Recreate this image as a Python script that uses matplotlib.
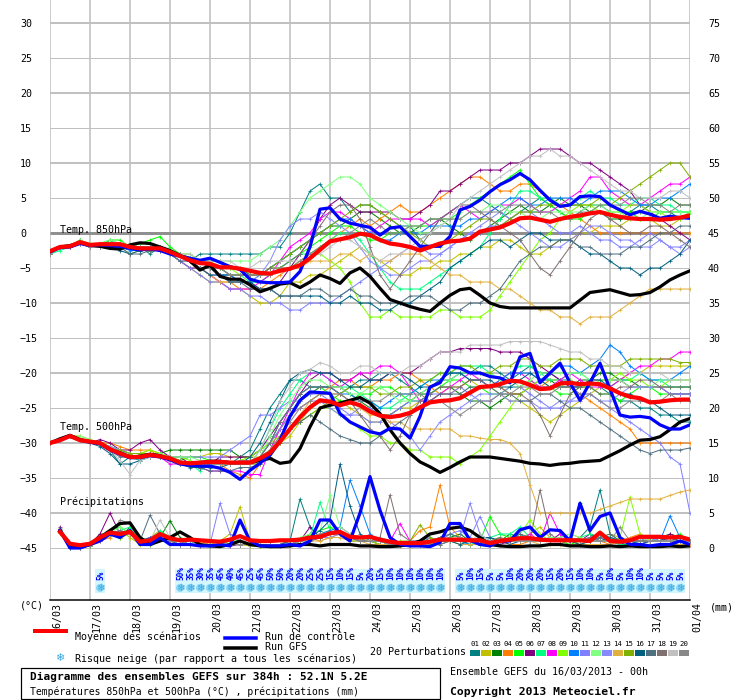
import numpy as np
import matplotlib
matplotlib.use('Agg')
import matplotlib.pyplot as plt
from matplotlib.lines import Line2D
from matplotlib.patches import Rectangle
from matplotlib.transforms import blended_transform_factory

plt.rcParams['font.family'] = ['DejaVu Sans Mono', 'DejaVu Sans']
plt.rcParams['font.size'] = 7.2

nan = np.nan
steps = np.arange(65)  # échéances de 6h, du 16/03 00h au 01/04 00h
days = ['16/03', '17/03', '18/03', '19/03', '20/03', '21/03', '22/03', '23/03', '24/03',
        '25/03', '26/03', '27/03', '28/03', '29/03', '30/03', '31/03', '01/04']

pert_names = ['%02d' % k for k in range(1, 21)]
pert_colors = ['#008080', '#c0c000', '#008000', '#ff8000', '#00ff00', '#800080', '#00ff80',
               '#ff00ff', '#80ff00', '#0080ff', '#8080ff', '#80ff80', '#8888ff', '#e0b040',
               '#80b000', '#006080', '#507080', '#807070', '#c0c0c0', '#888888']

# ---- température 850hPa (°C)
t850_mean = [-2.6, -2.0, -1.9, -1.3, -1.7, -1.6, -1.6, -1.6, -2.0, -2.2, -2.2, -2.2,
             -2.7, -3.3, -3.9, -4.3, -4.4, -4.9, -4.9, -5.1, -5.4, -5.7, -5.8, -5.4,
             -5.1, -4.6, -3.6, -2.4, -1.2, -0.9, -0.6, -0.1, -0.3, -1.0, -1.5, -1.7,
             -2.0, -2.5, -2.0, -1.5, -1.2, -1.1, -0.8, 0.2, 0.5, 0.8, 1.4, 2.1,
             2.2, 1.9, 1.6, 2.0, 2.3, 2.5, 2.8, 3.0, 2.6, 2.3, 2.1, 2.0, 2.0, 1.9, 2.0, 2.2, 2.5]
t850_ctrl = [-2.7, -2.1, -2.0, -1.5, -1.8, -1.7, -1.8, -1.9, -2.2, -2.4, -2.3, -2.5,
             -3.0, -3.3, -3.6, -3.9, -3.6, -4.2, -4.8, -5.2, -6.6, -7.0, -7.1, -7.1,
             -7.0, -5.5, -2.0, 3.4, 3.6, 2.0, 1.4, 1.1, 0.8, -0.3, 0.7, 0.9,
             -0.5, -1.9, -1.9, -1.9, -0.5, 3.3, 3.8, 4.7, 5.9, 6.9, 7.6, 8.5,
             7.6, 6.1, 4.7, 3.8, 4.0, 5.2, 5.3, 5.2, 4.0, 3.3, 2.6, 3.1, 2.7, 2.1, 2.4, 2.2, 2.1]
t850_gfs = [-2.6, -2.0, -1.8, -1.4, -1.7, -1.9, -2.2, -2.3, -1.7, -1.4, -1.5, -2.0,
            -2.5, -3.2, -4.0, -5.3, -4.6, -6.2, -6.6, -6.6, -7.4, -8.4, -7.9, -7.3,
            -7.1, -7.8, -7.0, -6.0, -6.5, -7.2, -5.7, -5.0, -6.2, -7.9, -9.5, -10.0,
            -10.5, -10.9, -11.2, -10.0, -8.9, -8.1, -7.9, -8.9, -10.0, -10.5, -10.7, -10.7,
            -10.7, -10.7, -10.7, -10.7, -10.7, -9.6, -8.5, -8.3, -8.1, -8.5, -8.9, -8.8,
            -8.5, -7.7, -6.7, -6.0, -5.4]
t850_pert = [
    [-3, -2, -2, -1, -2, -2, -1, -2, -2, -2, -3, -2, -3, -3, -4, -3, -3, -3, -3, -3, -3, -3, -2, -2, 0, 3, 6, 7, 5, 5, 3, 4, 4, 3, 2, 1, 1, -1, 0, 2, 3, 4, 5, 5, 4, 3, 2, 3, 4, 5, 4, 3, 2, 3, 4, 4, 3, 2, 3, 4, 4, 3, 3, 2, 3],
    [-3, -2, -2, -1.5, -2, -2, -2, -2, -3, -2.5, -2, -2, -3, -4, -5, -6, -7, -7, -8, -8, -9, -10, -10, -9, -7, -7, -6, -6, -5, -4, -3, -2, -3, -4, -5, -6, -6, -5, -5, -4, -4, -3, -3, -2, -2, -1, -1, -2, -3, -3, -2, -1, -1, 0, 0, 1, 1, 1, 2, 2, 2, 1, 1, 2, 3],
    [-3, -2, -2, -1, -2, -1.5, -1.5, -2, -2, -2, -2, -2.5, -3, -3, -3.5, -4, -4, -4, -5, -5, -6, -6, -5, -4, -3, -2, -1, 0, 1, 1, 2, 3, 3, 2, 1, 0, 0, 1, 2, 2, 1, 0, -1, 0, 1, 2, 3, 4, 3, 3, 4, 5, 4, 4, 3, 3, 2, 2, 3, 3, 4, 4, 5, 4, 4],
    [-3, -2, -2, -1.5, -2, -2, -1.5, -2, -2, -2, -2, -2, -3, -3, -4, -5, -6, -7, -7, -8, -8, -8, -7, -6, -5, -4, -3, -2, -1, 0, 1, 2, 1, 2, 3, 4, 3, 3, 4, 5, 6, 7, 8, 8, 7, 6, 6, 7, 7, 6, 5, 4, 3, 2, 1, 0, 0, 0, 0, 0, 0, 0, 0, 0, 0],
    [-3, -2, -2, -1, -2, -1.5, -1, -1, -2, -1.5, -1, -0.5, -2, -3, -4, -4, -5, -6, -6, -7, -7, -7, -6, -5, -4, -3, -2, -1, 0, 1, 1, 0, -1, -1, 0, 0, 1, 1, 1, 2, 2, 3, 4, 5, 6, 7, 8, 9, 7, 5, 4, 3, 2, 2, 3, 4, 4, 3, 3, 2, 2, 3, 3, 3, 3],
    [-3, -2, -2, -1.5, -2, -2, -2, -1.5, -2, -2, -2, -2, -3, -4, -5, -5, -5, -6, -6, -7, -7, -8, -8, -7, -5, -3, -1, 2, 4, 5, 4, 3, 3, 3, 3, 2, 2, 3, 4, 6, 6, 7, 8, 9, 9, 9, 10, 10, 11, 12, 12, 12, 11, 10, 10, 9, 8, 7, 6, 4, 3, 2, 1, 0, -1],
    [-3, -2.5, -2, -1.5, -2, -2, -2, -2, -2, -2, -2.5, -2.5, -3, -3, -4, -4, -5, -5, -6, -6, -7, -7, -6, -5, -4, -3, -3, -2, -1, 0, 0, -1, -3, -5, -7, -8, -8, -8, -7, -6, -5, -4, -3, -2, 0, 2, 4, 6, 6, 5, 5, 4, 4, 5, 6, 5, 5, 4, 4, 5, 5, 4, 4, 3, 3],
    [-3, -2, -2, -1.5, -2, -2, -2, -2, -2, -2, -2, -2, -3, -3, -4, -5, -6, -7, -8, -8, -8, -7, -6, -4, -2, -1, 0, 2, 3, 3, 2, 1, 0, 1, 2, 2, 2, 2, 1, 2, 3, 4, 3, 2, 3, 4, 4, 5, 4, 3, 3, 4, 5, 6, 8, 8, 6, 5, 4, 4, 5, 6, 7, 7, 8],
    [-3, -2, -2, -1.5, -1.5, -1.5, -2, -2, -2, -2, -2, -2, -3, -3, -3, -4, -4, -5, -5, -6, -6, -6, -5, -5, -5, -4, -3, -3, -4, -5, -7, -10, -12, -12, -11, -12, -12, -12, -12, -11, -11, -12, -12, -12, -11, -9, -7, -5, -3, -1, 0, 2, 3, 4, 4, 3, 3, 3, 4, 4, 3, 3, 2, 2, 3],
    [-3, -2, -2, -1.5, -2, -2, -2, -2, -2.5, -2.5, -2, -2, -3, -3, -4, -5, -5, -6, -6, -7, -7, -6, -5, -4, -3, -2, -1, 0, 1, 2, 2, 1, 0, -1, -1, 0, 0, 0, 1, 1, 1, 1, 2, 2, 3, 4, 5, 5, 4, 4, 5, 5, 5, 4, 5, 6, 6, 6, 5, 4, 4, 5, 5, 6, 7],
    [-3, -2, -2, -1.5, -2, -2, -2, -2, -2, -2, -2.5, -2.5, -3, -4, -5, -6, -7, -7, -8, -8, -9, -9, -10, -10, -11, -11, -10, -10, -10, -9, -8, -7, -6, -5, -4, -3, -2, -2, -3, -3, -2, -1, 0, 0, 1, 1, 2, 3, 3, 2, 1, 0, 0, 1, 0, -1, -1, -2, -2, -1, 0, -1, -2, -2, -1],
    [-3, -2, -2, -1, -1.5, -1.5, -1, -1.5, -2, -2, -2, -2, -3, -3, -3, -4, -4, -4, -4, -4, -4, -3, -2, -1, 1, 3, 5, 6, 7, 8, 8, 7, 5, 4, 3, 2, 1, 0, 0, 1, 2, 2, 3, 3, 4, 4, 3, 3, 2, 2, 3, 3, 3, 3, 4, 4, 3, 3, 2, 2, 3, 3, 3, 3, 3],
    [-3, -2, -2, -1.5, -2, -2, -1.5, -1.5, -2, -2, -2, -2.5, -3, -4, -4, -5, -6, -6, -7, -7, -7, -6, -4, -1, 1, 2, 2, 3, 2, 1, 0, -2, -4, -5, -6, -6, -5, -4, -4, -3, -2, -1, 0, 1, 2, 3, 2, 1, 0, -1, -2, -2, -1, 0, 1, 1, 0, -1, -1, -2, -2, -1, -2, -3, -2],
    [-3, -2, -2, -1.5, -2, -2, -2, -2, -2, -2, -2, -2, -3, -3, -4, -5, -6, -7, -7, -7, -6, -6, -6, -5, -5, -5, -4, -4, -4, -3, -3, -4, -3, -4, -4, -3, -3, -3, -4, -5, -6, -6, -7, -7, -7, -8, -8, -9, -10, -11, -11, -12, -12, -13, -12, -12, -12, -11, -10, -9, -8, -8, -8, -8, -8],
    [-3, -2, -2, -1.5, -2, -2, -2, -2, -2, -2.5, -2.5, -2, -3, -3, -4, -4, -5, -5, -6, -6, -6, -6, -5, -4, -3, -2, -1, 0, 1, 2, 3, 4, 4, 3, 2, 1, 0, -1, -2, -2, -1, 0, 1, 2, 2, 1, 2, 3, 3, 4, 4, 4, 4, 4, 4, 5, 4, 5, 6, 7, 8, 9, 10, 10, 8],
    [-3, -2, -2, -1.5, -2, -2, -2, -2.5, -3, -2.5, -2, -2, -3, -3, -4, -5, -6, -6, -7, -7, -7, -8, -8, -9, -9, -9, -9, -9, -10, -10, -9, -10, -10, -11, -11, -10, -10, -9, -8, -7, -5, -4, -3, -2, -1, -1, -2, -1, 0, 0, -1, -1, -1, -2, -3, -3, -4, -5, -5, -6, -5, -5, -4, -3, -1],
    [-3, -2, -2, -1.5, -2, -2, -2, -2, -3, -3, -2.5, -2, -3, -4, -4, -5, -5, -6, -7, -7, -8, -8, -8, -9, -9, -9, -8, -8, -9, -9, -8, -9, -9, -10, -10, -10, -9, -9, -9, -10, -11, -11, -10, -10, -9, -8, -6, -4, -3, -2, -2, -1, -1, -2, -2, -3, -3, -3, -2, -2, -1, 0, 0, 1, 1],
    [-3, -2, -2, -1.5, -2, -2, -2, -2, -2, -2, -2, -2.5, -3, -3, -4, -4, -5, -5, -6, -6, -6, -6, -5, -5, -4, -3, -1, 1, 3, 4, 4, 2, -2, -6, -8, -6, -4, -2, 0, 2, 3, 4, 4, 3, 2, 1, 0, -1, -3, -5, -6, -4, -2, 0, 2, 3, 2, 1, 0, 0, 1, 1, 0, -1, -2],
    [-3, -2, -2, -1.5, -2, -2, -2, -2, -2, -2, -2, -2, -3, -3, -3, -4, -4, -4, -4, -5, -5, -4, -4, -4, -4, -4, -3, -3, -2, -1, -1, -2, -3, -4, -3, -3, -2, -1, 0, 1, 2, 4, 5, 6, 7, 8, 9, 10, 11, 11, 12, 11, 11, 10, 9, 8, 7, 6, 6, 5, 5, 5, 6, 6, 5],
    [-3, -2, -2, -1.5, -2, -2, -2, -2, -2, -2, -2, -2, -3, -3, -4, -5, -5, -5, -6, -6, -6, -6, -6, -5, -5, -4, -3, -2, -1, -1, 0, 1, 2, 1, 0, 0, 1, 1, 2, 2, 2, 2, 3, 3, 3, 3, 4, 4, 4, 3, 3, 2, 2, 3, 3, 4, 4, 4, 5, 5, 4, 4, 3, 4, 4],
]

# ---- température 500hPa (°C)
t500_mean = [-30.0, -29.6, -29.0, -29.6, -29.8, -30.0, -30.9, -31.5, -32.0, -32.0, -31.7, -31.9,
             -32.2, -32.8, -32.9, -32.8, -32.7, -32.7, -32.8, -32.8, -32.8, -32.2, -31.4, -29.8,
             -28.0, -26.3, -24.9, -23.9, -24.1, -24.6, -24.2, -24.6, -25.5, -26.1, -26.3, -26.1,
             -25.7, -24.9, -24.2, -24.0, -23.9, -23.6, -22.8, -22.0, -21.9, -21.6, -21.1, -21.2,
             -21.7, -22.3, -22.2, -21.5, -21.4, -21.6, -21.5, -21.6, -22.2, -22.9, -23.4, -23.6,
             -24.2, -24.1, -23.9, -23.8, -23.8]
t500_ctrl = [-30.0, -29.6, -29.0, -29.6, -29.9, -30.1, -31.0, -31.6, -32.1, -32.1, -31.8, -32.0,
             -32.4, -33.0, -33.2, -33.3, -33.3, -33.6, -34.2, -35.2, -33.9, -32.9, -31.7, -29.6,
             -26.2, -23.9, -22.7, -22.8, -22.9, -25.8, -27.0, -27.7, -28.4, -28.7, -27.9, -28.0,
             -29.3, -26.2, -22.0, -21.4, -19.1, -19.3, -20.0, -20.0, -20.5, -20.7, -21.4, -17.7,
             -17.2, -21.4, -20.0, -18.6, -21.4, -23.9, -21.4, -18.6, -22.3, -26.0, -26.3, -26.2,
             -26.4, -27.4, -28.0, -28.0, -27.4]
t500_gfs = [-30.0, -29.4, -28.9, -29.5, -29.8, -30.1, -30.9, -31.4, -32.0, -31.9, -31.6, -31.8,
            -32.3, -32.8, -33.0, -32.8, -32.6, -32.6, -32.8, -32.8, -32.8, -32.5, -32.2, -32.9,
            -32.7, -30.8, -27.7, -25.0, -24.6, -24.3, -23.9, -23.5, -24.3, -25.8, -28.1, -30.0,
            -31.5, -32.7, -33.4, -34.2, -33.5, -32.7, -32.0, -32.0, -32.0, -32.2, -32.4, -32.6,
            -32.9, -33.0, -33.2, -33.0, -32.9, -32.7, -32.6, -32.5, -31.8, -31.1, -30.3, -29.6,
            -29.5, -29.1, -28.1, -27.0, -26.5]
t500_pert = [
    [-30, -29.5, -29, -29.5, -30, -30, -31, -33, -32, -32, -31.5, -32, -32, -33, -33, -33, -33, -33, -33, -32, -31, -28, -25, -23, -21, -21, -22, -22, -22, -23, -22, -21, -21, -20, -20, -21, -22, -23, -22, -21, -21, -20, -20, -19, -19, -20, -21, -20, -19, -20, -20, -21, -21, -22, -21, -22, -23, -24, -24, -25, -25, -26, -26, -27, -27],
    [-30, -29.5, -29, -29, -29.5, -30, -30.5, -31, -31.5, -31.5, -31, -31.5, -32, -32, -32, -32, -31.5, -31.5, -32, -32, -32, -32, -31, -30, -29, -27, -25, -24, -24, -24, -25, -26, -27, -27, -26, -25, -25, -24, -24, -23, -22, -22, -21, -22, -22, -23, -24, -24, -25, -26, -27, -26, -25, -24, -23, -22, -22, -21, -20, -20, -19, -19, -19, -19, -19],
    [-30, -29.5, -29, -29.5, -30, -30, -31, -31, -32, -32, -31.5, -31.5, -31, -31, -31, -31, -31, -31, -31, -32, -32, -31, -30, -28, -26, -24, -23, -22, -22, -22, -23, -24, -25, -26, -26, -25, -24, -23, -23, -22, -22, -23, -24, -24, -25, -24, -23, -23, -22, -21, -21, -22, -22, -21, -21, -20, -20, -21, -21, -22, -22, -22, -22, -22, -22],
    [-30, -29.5, -29, -29.5, -30, -30, -30, -30.5, -31, -31, -31, -32, -32, -33, -33, -33, -33, -33, -34, -34.5, -35, -33, -31, -28, -26, -25, -24, -23, -22, -21, -21, -22, -22, -21, -21, -20, -20, -21, -22, -23, -23, -22, -21, -21, -22, -22, -23, -23, -22, -22, -21, -21, -22, -23, -24, -25, -26, -27, -28, -30, -30, -30, -30, -30, -30],
    [-30, -29.5, -29, -29.5, -30, -30, -30.5, -31, -31.5, -31.5, -31.5, -31.5, -32, -32.5, -32, -32, -32.5, -33, -33, -33, -33, -32, -30, -27, -25, -23, -22, -22, -23, -24, -24, -23, -23, -22, -22, -23, -24, -24, -23, -22, -21, -21, -22, -22, -23, -23, -22, -22, -21, -22, -22, -23, -23, -22, -22, -23, -23, -24, -23, -22, -22, -23, -23, -23, -23],
    [-30, -29.5, -29, -29.5, -30, -29.5, -30, -31, -31, -30, -29.5, -31, -32, -32, -33, -33, -33, -32, -32, -32, -32, -31, -29, -27, -25, -23, -21, -20, -20, -21, -21, -20, -21, -21, -20, -20, -20, -19, -18, -17, -17, -16.5, -16.5, -16.5, -16.5, -17, -17, -17, -18, -19, -20, -21, -22, -22, -21, -21, -21, -21, -22, -22, -22, -22, -23, -23, -23],
    [-30, -29.5, -29, -29.5, -30, -30, -31, -31.5, -32, -32.5, -32, -32, -32, -33, -33, -34, -33, -33, -33, -33, -33, -31, -28, -25, -23, -21, -20, -20, -21, -22, -22, -23, -24, -25, -25, -24, -23, -22, -21, -20, -20, -19, -19, -19, -20, -21, -20, -19, -19, -20, -21, -21, -20, -20, -21, -22, -22, -21, -21, -20, -21, -21, -22, -22, -22],
    [-30, -29.5, -29, -29.5, -30, -30, -31, -31.5, -32, -32, -32, -32, -33, -33, -33, -33.5, -34, -34, -34, -34, -34.5, -34.5, -31, -28, -25, -22, -20, -20, -21, -22, -21, -20, -20, -19, -19, -20, -22, -24, -24, -23, -22, -21, -20, -21, -22, -21, -20, -20, -21, -22, -22, -21, -20, -21, -22, -22, -22, -21, -20, -19, -19, -18, -18, -17, -17],
    [-30, -29.5, -29, -29.5, -30, -30, -30.5, -31, -31.5, -31.5, -31, -31.5, -32, -32, -32.5, -33, -33, -33, -33, -32.5, -32, -31, -30, -29, -28, -27, -26, -25, -25, -26, -27, -28, -29, -29, -30, -30, -31, -31, -32, -32, -32, -33, -32, -31, -29, -27, -25, -23, -22, -21, -22, -22, -21, -22, -22, -21, -21, -20, -21, -21, -22, -22, -21, -21, -21],
    [-30, -29.5, -29, -29.5, -30, -30, -31, -31.5, -32, -32, -31.5, -32, -32, -33, -33, -33, -33, -33, -33, -33, -33, -32, -30, -27, -25, -23, -22, -22, -22, -23, -23, -24, -24, -25, -24, -23, -23, -22, -21, -21, -20, -20, -21, -21, -22, -21, -20, -20, -20, -21, -20, -19, -19, -20, -19, -18, -16, -17, -19, -20, -21, -21, -21, -20, -19],
    [-30, -29.5, -29, -29.5, -30, -30, -31, -31, -32, -32, -31.5, -32, -32, -32, -32, -32, -32, -32, -31, -30, -29, -26, -26, -25, -24, -24, -23, -23, -24, -25, -26, -26, -27, -27, -26, -25, -24, -24, -23, -23, -23, -22, -23, -24, -24, -23, -22, -22, -23, -24, -25, -25, -24, -24, -23, -24, -25, -26, -27, -28, -29, -30, -32, -33, -40],
    [-30, -29.5, -29, -29, -29.5, -30, -30.5, -31, -31.5, -31.5, -31.5, -31.5, -32, -32, -32, -32.5, -33, -33, -33, -33, -33, -32, -29, -26, -24, -22, -21, -21, -22, -22, -23, -23, -22, -22, -23, -24, -24, -23, -22, -21, -21, -20, -20, -20, -20, -21, -21, -22, -21, -20, -20, -20, -20, -20, -21, -21, -21, -21, -22, -22, -22, -21, -21, -21, -21],
    [-30, -29.5, -29, -29.5, -30, -30, -30.5, -31, -31.5, -31.5, -31.5, -32, -32, -33, -33, -33, -33, -33, -33, -33, -33, -32, -30, -28, -26, -25, -24, -24, -25, -26, -26, -25, -25, -26, -27, -28, -29, -31, -29, -27, -26, -25, -24, -23, -23, -23, -24, -24, -24, -25, -25, -24, -24, -23, -23, -24, -24, -23, -22, -22, -22, -22, -23, -23, -23],
    [-30, -29.5, -29, -29.5, -30, -30, -31, -31.5, -32, -32, -32, -32, -32, -33, -33, -33, -33, -33, -33, -33, -33, -33, -31, -29, -28, -26, -24, -23, -23, -23, -24, -25, -26, -26, -27, -27, -28, -28, -28, -28, -28, -29, -29, -29.3, -29.5, -29.5, -30, -31.5, -36, -40, -40, -40, -40, -40, -40, -39.5, -39, -38.5, -38, -38, -38, -38, -37.5, -37, -36.7],
    [-30, -29.5, -29, -29.5, -30, -30, -31, -31, -31.5, -31.5, -31.5, -32, -32, -32.5, -33, -33, -33, -33, -33, -33, -33, -33, -32, -30, -28, -27, -26, -25, -24, -23, -22, -22, -22, -23, -23, -22, -22, -21, -21, -20, -20, -19, -19, -20, -20, -19, -19, -18, -18, -19, -19, -18, -18, -18, -19, -19, -19, -19, -18, -18, -18, -18, -18, -18.5, -18.5],
    [-30, -29.5, -29, -29.5, -30, -30.5, -31.5, -33, -33, -32.5, -32, -32, -32.5, -33, -33.5, -33.5, -33.5, -33.5, -33, -33, -32, -30, -27, -24, -21, -20, -19.5, -20, -20, -21, -22, -22, -21, -21, -20, -20, -21, -22, -22, -21, -20, -20, -21, -21, -21, -22, -22, -21, -20, -21, -22, -22, -22, -22, -21, -21, -22, -23, -23, -24, -24, -25, -26, -26, -26],
    [-30, -29.5, -29, -29.5, -30, -30, -31, -32, -32, -32, -32, -32, -32, -33, -33, -33.5, -34, -34, -34, -33.5, -33.5, -33, -32, -30, -28, -27, -26, -27, -28, -29, -29.5, -30, -30, -29, -28, -27, -26, -25, -24, -23, -23, -23, -22, -22, -22, -23, -23, -24, -24, -23, -23, -24, -25, -25, -26, -27, -28, -29, -30, -31, -31.5, -31, -31, -31, -30.7],
    [-30, -29.5, -29, -29.5, -30, -30, -31, -31.5, -32, -32, -31.5, -32, -32.5, -33, -33, -33, -33, -33, -33, -33, -33, -32, -30, -27, -25, -23, -22, -22, -22, -23, -24, -26, -28, -29, -31, -29, -26, -24, -23, -22, -22, -22, -21, -21, -22, -22, -23, -23, -24, -26, -29, -26, -23, -22, -22, -23, -23, -22, -22, -21, -21, -22, -22, -22, -22],
    [-30, -29.5, -29, -29.5, -30, -30, -31, -32.5, -34.5, -32.5, -32, -32, -32.5, -33, -33, -33, -33, -33, -33, -33, -33, -31, -28, -24, -22, -20, -19.5, -18.5, -19, -20, -20, -19, -19, -20, -20, -20, -19, -19, -18, -17, -17, -17, -16, -16, -16, -16, -15.5, -15.5, -15.5, -15.5, -16, -16.5, -17, -17, -18, -18, -19, -19, -20, -20, -20, -20, -21, -21, -21],
    [-30, -29.5, -29, -29.5, -30, -30, -31, -31.5, -32, -32, -31.5, -32, -32, -32.5, -33, -33, -33, -33, -33, -32.5, -32.5, -32, -31, -29, -27, -25, -24, -23, -23, -23, -24, -24, -24, -24, -23, -23, -23, -23, -24, -24, -25, -26, -25, -24, -24, -23, -23, -22, -22, -23, -23, -22, -22, -23, -23, -24, -25, -25, -24, -24, -24, -24, -23, -24, -24],
]

# ---- précipitations (mm sur 6h), pas de valeur à l'échéance 0
rr_mean = [nan, 2.3, 0.6, 0.4, 0.6, 1.5, 2.2, 2.0, 2.3, 0.9, 1.1, 2.0, 1.4, 1.1, 1.2, 1.1,
           1.0, 0.9, 1.2, 1.7, 1.1, 1.0, 1.0, 1.1, 1.1, 1.2, 1.5, 1.6, 2.1, 2.3, 1.6, 1.5,
           1.6, 1.2, 0.9, 0.7, 0.7, 0.7, 0.9, 1.2, 1.2, 1.2, 1.1, 1.1, 0.7, 1.0, 1.2, 1.4,
           1.4, 1.2, 1.1, 1.1, 1.1, 1.1, 1.0, 2.2, 1.0, 0.9, 1.1, 1.6, 1.6, 1.6, 1.5, 1.6, 1.2]
rr_ctrl = [nan, 2.5, 0, 0, 0.5, 1, 2, 1.5, 2.5, 0.5, 0.5, 1.5, 0.5, 0.5, 0.5, 0.3,
           0.3, 0.5, 0.3, 4.0, 1.0, 0.3, 0.3, 0.3, 0.5, 0.3, 1.0, 4.0, 4.0, 2.0, 1.0, 5.0,
           10.2, 5.4, 1.5, 0.5, 0.3, 0.3, 0.2, 0.8, 3.5, 3.5, 1.1, 0.5, 0.3, 1.0, 1.0, 2.6,
           3.0, 1.5, 2.6, 2.5, 1.0, 6.4, 2.5, 4.5, 5.0, 1.5, 0.5, 0.5, 0.3, 0.5, 0.5, 1.0, 0.5]
rr_gfs = [nan, 2.5, 0.3, 0.2, 0.5, 1.5, 2.5, 3.5, 3.6, 1.5, 0.5, 1.0, 1.5, 2.3, 1.5, 0.5,
          0.3, 0.2, 0.5, 1.0, 0.5, 0.3, 0.2, 0.2, 0.3, 0.5, 0.5, 0.3, 0.5, 0.5, 0.5, 0.3,
          0.3, 0.2, 0.2, 0.3, 0.5, 1.0, 2.0, 2.3, 2.8, 3.0, 2.5, 1.5, 0.5, 0.3, 0.2, 0.2,
          0.3, 0.3, 0.5, 0.5, 0.3, 0.3, 0.2, 0.2, 0.3, 0.2, 0.3, 0.2, 0.2, 0.2, 0.3, 0.2, 0.3]
rr_pert = [
    [nan, 2.5, 0, 0, 0.5, 1.5, 2.5, 2, 2.5, 1, 1, 2, 1, 1, 0.5, 0.5, 0.5, 0.5, 0.5, 1, 0.5, 0.5, 0.5, 0.5, 1, 7, 3, 1.5, 2, 2, 1, 1, 1.5, 1, 0.5, 0.5, 0.5, 1, 1, 0.5, 1, 1.5, 1, 0.5, 0.5, 1, 1.5, 2, 1, 1, 1.5, 1, 1, 1.5, 3, 8.3, 2, 1, 0.5, 1, 1.5, 1, 1, 1, 0.5],
    [nan, 2.8, 0.3, 0, 0.3, 1, 2, 2.5, 1.5, 0.5, 1.5, 2.5, 1.5, 1, 1, 0.5, 0.5, 1, 2, 5.9, 1, 0.5, 0.3, 0.5, 0.5, 1, 1.5, 2, 2.5, 2, 1.5, 1, 1, 0.5, 0.5, 0.3, 0.3, 0.5, 1, 1.5, 1, 1, 0.5, 0.5, 1, 1, 1.5, 1.5, 2, 3, 1.5, 1, 1, 0.5, 1, 1.5, 2, 1.5, 1, 1, 1.5, 1.5, 1, 1, 1],
    [nan, 2.2, 0, 0, 0.5, 2, 2, 1.5, 3, 1, 0.5, 1.5, 3.9, 1.5, 1, 0.5, 0.3, 0.5, 0.5, 0.5, 0.5, 0.3, 0.5, 0.5, 1, 1, 2, 1.5, 2, 2.5, 1.5, 1, 1.5, 1, 0.5, 0.5, 0.5, 0.5, 1.5, 1, 1.5, 2, 1, 1, 0.5, 1, 2, 1.5, 1, 1.5, 1, 1, 1.5, 6.4, 2, 1, 1, 1, 0.5, 0.5, 1, 1.5, 2, 1.5, 1],
    [nan, 2.5, 0, 0, 0.5, 1, 1.5, 2.5, 2, 1, 1, 2, 1, 1, 1.5, 1, 0.5, 0.5, 0.5, 1, 0.5, 0.5, 0.3, 0.5, 0.5, 1, 1.5, 1, 1.5, 2, 1.5, 1.5, 1, 1, 0.5, 0.5, 1, 2.5, 3, 9, 3, 1.5, 1, 0.5, 1, 1, 0.5, 0.5, 1, 1, 1, 1.5, 2, 1.5, 1, 1, 0.5, 1, 1.5, 2, 1, 1, 1.5, 1, 1],
    [nan, 2.6, 0.5, 0, 0.3, 1.5, 2.5, 3, 2, 1, 1, 2, 1, 0.5, 0.5, 0.5, 0.5, 0.5, 1, 1, 0.5, 0.5, 0.5, 0.3, 0.5, 1, 2, 2.5, 3, 2, 1.5, 1, 1.5, 1, 0.5, 0.5, 0.5, 1, 0.5, 1, 2, 1.5, 1, 1, 4.5, 2, 1.5, 1, 1, 1.5, 1, 1, 0.5, 1, 1.5, 2, 1.5, 1, 1, 1.5, 1, 1, 1.5, 2, 1],
    [nan, 3, 0, 0, 0.5, 2, 5, 2, 2, 1, 1.5, 2, 1, 1, 0.5, 0.3, 0.5, 0.5, 0.3, 0.5, 0.5, 0.5, 0.3, 0.5, 0.5, 1, 3, 1.5, 2, 2, 1.5, 1, 1, 0.5, 0.5, 0.5, 0.5, 1, 1, 1.5, 1, 1.5, 1, 0.5, 1, 0.5, 1, 1.5, 1.5, 1, 1, 2, 1, 1, 2, 1.5, 1, 0.5, 1, 1, 1.5, 1, 2, 1.5, 1],
    [nan, 2.4, 0, 0, 0.5, 1.5, 2, 2.5, 3, 1, 1, 2.5, 1.5, 1, 1, 0.5, 0.5, 0.3, 0.5, 1, 0.5, 0.5, 0.5, 0.5, 0.5, 1, 1.5, 6.5, 2.5, 2, 1.5, 1, 1, 1.5, 1, 0.5, 0.5, 0.5, 1, 1, 1.5, 1, 0.5, 1, 1.5, 2, 2, 3, 1.5, 1, 1, 1, 1, 1.5, 2, 1.5, 1, 0.5, 0.5, 1, 1, 1.5, 1, 1, 1],
    [nan, 2.5, 0.3, 0, 0.5, 1, 2, 2, 2.5, 1, 1, 1.5, 1, 0.5, 0.5, 0.5, 0.5, 0.5, 0.5, 0.5, 0.5, 0.5, 0.5, 0.3, 0.5, 0.5, 1, 1.5, 2, 3, 2, 1, 1, 1, 1, 3.5, 1, 0.5, 0.5, 1, 1, 1, 1.5, 1, 1, 1, 1.5, 1, 2, 1, 5, 2, 1, 1, 1.5, 1, 1, 1, 0.5, 0.5, 1, 1, 1.5, 1, 0.5],
    [nan, 2.3, 0, 0, 0.5, 1.5, 2.5, 1.5, 2, 1.5, 1, 2, 1, 1, 0.5, 0.5, 0.5, 0.5, 0.5, 0.5, 0.3, 0.3, 0.5, 0.5, 1, 1, 1.5, 2, 2, 2, 1, 1, 1, 0.5, 0.5, 0.5, 0.5, 0.5, 1, 1, 1, 1, 1.5, 1, 1, 1, 1.5, 2, 4, 2, 1, 1, 1, 1, 1.5, 2, 1, 1.5, 7.3, 2, 1, 1, 1, 1.5, 1],
    [nan, 2.7, 0, 0, 0.3, 1, 2, 2.5, 2, 1, 1.5, 2, 1.5, 1, 0.5, 0.5, 0.5, 0.5, 0.5, 1, 0.5, 0.5, 0.3, 0.5, 0.5, 1, 1.5, 2, 2.5, 3, 9.7, 6, 2, 1, 0.5, 0.5, 0.5, 0.5, 1, 1, 1, 1, 0.5, 0.5, 1, 1, 1, 1.5, 1, 1, 1, 1.5, 1, 1, 1.5, 2, 1.5, 1, 1, 1, 1, 1, 4.6, 1.5, 1],
    [nan, 2.5, 0.5, 0, 0.5, 1.5, 2, 2, 2.5, 1, 1, 1.5, 1, 1, 1, 0.5, 0.5, 6.4, 2, 1, 0.5, 0.5, 0.5, 0.5, 0.5, 1, 1.5, 1.5, 2, 2, 1.5, 1, 1, 1, 0.5, 0.5, 0.5, 1, 1, 1, 2, 2.5, 1.5, 4.5, 1.5, 1, 1, 1, 1, 1, 1.5, 1, 1, 1, 1, 1.5, 1, 1, 0.5, 1, 1.5, 1, 1, 1, 1],
    [nan, 2.6, 0, 0, 0.5, 1.5, 2, 3, 2, 1, 1, 2, 1, 1, 0.5, 0.5, 0.5, 0.5, 0.5, 0.5, 0.5, 0.5, 0.3, 0.5, 1, 1.5, 2, 2.5, 7.5, 3, 2, 1, 1, 1, 0.5, 0.5, 0.5, 1, 1, 1.5, 1, 1, 1, 0.5, 1, 1.5, 1, 1, 1, 1, 1.5, 1.5, 2, 1.5, 1, 1, 1, 1, 1, 1.5, 1, 1.5, 1, 1, 1],
    [nan, 2.4, 0, 0, 0.5, 1, 2, 2.5, 2, 1, 1, 1.5, 1, 0.5, 0.5, 0.5, 0.5, 0.5, 0.5, 0.5, 0.5, 0.5, 0.5, 0.5, 0.5, 0.5, 1, 1.5, 1.5, 2, 1.5, 1, 1, 1, 1, 0.5, 1, 1, 1.5, 1, 1, 1.5, 6.4, 2, 1, 1, 1, 1.5, 1, 1, 1, 1, 1.5, 1, 1.5, 1, 1, 1, 1, 0.5, 1, 1.5, 1, 1, 1],
    [nan, 2.2, 0, 0, 0.3, 1, 2, 2, 2, 1, 1, 1.5, 1, 0.5, 0.5, 0.5, 0.5, 0.5, 0.5, 0.5, 0.3, 0.3, 0.3, 0.5, 0.5, 0.5, 1, 1, 1.5, 1.5, 1, 1, 0.5, 0.5, 0.5, 0.5, 0.5, 0.5, 0.5, 1, 1, 0.5, 0.5, 0.5, 0.5, 1, 1, 1, 1, 0.5, 0.5, 0.5, 0.5, 0.5, 0.5, 0.5, 0.5, 1, 0.5, 0.5, 0.5, 0.5, 0.5, 0.5, 0.5],
    [nan, 2.5, 0, 0, 0.5, 1.5, 2, 2, 2, 1.5, 1, 2, 1.5, 1, 0.5, 0.5, 0.5, 0.5, 0.5, 0.5, 0.5, 0.5, 0.5, 0.5, 0.5, 1, 1.5, 2, 2, 2, 1.5, 1.5, 1, 1, 0.5, 1, 1, 3.3, 1.5, 1, 1, 1, 1, 1, 1, 1.5, 1, 1, 1, 1, 1, 1.5, 1, 1, 1, 1, 1.5, 1, 1, 1, 1, 1, 1, 1.5, 1],
    [nan, 2.6, 0, 0, 0.5, 1.5, 2.5, 2, 2, 1, 1, 2, 1, 1, 0.5, 0.5, 0.5, 0.5, 0.5, 0.5, 0.5, 0.5, 0.5, 0.5, 1, 1, 1.5, 2.5, 4, 12, 6, 2, 1, 1, 0.5, 0.5, 0.5, 0.5, 1, 1, 1, 0.5, 1, 1.5, 1.5, 1, 0.5, 1, 1, 1.5, 1, 1, 1, 0.5, 1, 1, 1.5, 1, 1, 0.5, 1, 1, 1.5, 1, 1],
    [nan, 2.5, 0, 0, 0.5, 1.5, 2, 2, 2, 1, 4.7, 2, 1, 0.5, 0.5, 0.5, 0.5, 0.5, 0.5, 0.5, 0.5, 0.5, 0.5, 0.5, 0.5, 1, 1, 1.5, 2, 2, 1.5, 1, 1, 1, 0.5, 0.5, 0.5, 1, 1, 1.5, 2, 1.5, 1, 1, 1, 1, 1, 2, 1.5, 1, 1, 1, 1, 1, 1, 1.5, 2, 1, 1, 1, 1, 1, 1, 1.5, 1],
    [nan, 2.5, 0, 0, 0.5, 1.5, 2, 2.5, 2, 1, 1, 2, 1, 1, 0.5, 0.5, 0.5, 0.5, 0.5, 0.5, 0.5, 0.5, 0.5, 0.5, 0.5, 1, 1.5, 1.5, 2, 2, 1.5, 1, 1, 1.5, 7.6, 2, 1, 1, 0.5, 0.5, 1, 1, 1, 1, 1, 1.5, 1, 1, 1, 8.3, 2, 1, 1, 1, 1.5, 1, 1, 1, 1, 1, 1, 1, 1, 1, 1],
    [nan, 2.5, 0, 0, 0.5, 1.5, 2, 2, 2, 1, 1, 4, 1.5, 1, 0.5, 0.5, 0.5, 0.5, 0.5, 0.5, 0.5, 0.5, 0.5, 0.5, 0.5, 1, 1.5, 2, 2, 2, 1.5, 1.5, 1, 1, 0.5, 0.5, 0.5, 0.5, 1, 1, 1, 1.5, 1, 2, 1, 1, 1, 1, 1, 1, 1, 1.5, 1, 1, 1, 1, 1, 1, 1, 1.5, 1, 1, 1, 1, 1],
    [nan, 2.5, 0, 0, 0.5, 1.5, 2, 4, 3.5, 1, 1, 2, 1, 1, 0.5, 0.5, 0.5, 0.5, 0.5, 0.5, 0.5, 0.5, 0.5, 0.5, 0.5, 1, 1.5, 2, 2, 2, 1.5, 1, 1, 1, 0.5, 0.5, 0.5, 0.5, 1, 1, 1, 1, 1, 1, 1, 1, 1, 1, 1, 1, 1, 1, 1, 1, 1, 1, 1, 3, 1, 1, 1, 1, 1, 1, 1],
]

# ---- risque neige (% des scénarios) par échéance
snow_pct = [0, 0, 0, 0, 0, 5, 0, 0, 0, 0, 0, 0, 0,
            50, 35, 30, 35, 45, 40, 45, 25, 45, 50, 50, 20, 20, 25, 25, 15, 10, 15, 5, 20,
            15, 10, 10, 10, 10, 10, 10,
            0,
            5, 10, 15, 5, 5, 10, 20, 20, 20, 15, 20, 15, 10, 10, 5, 10, 5, 10, 10, 5, 5, 5, 5,
            0]

W, H = 740, 700
PX = 0.72  # 1 pixel en points à 100 dpi


def fx(px):
    return px / W


def fy(py):
    return 1 - py / H


# échelle gauche : 30°C à y=23 px, -45°C à y=548 px (7 px par degré)
YTOP = 30 + 23 / 7
YBOT = 30 - 577 / 7

fig = plt.figure(figsize=(7.4, 7.0), dpi=100)
ax = fig.add_axes([fx(50), fy(600), 640 / W, 600 / H])
ax.set_xlim(0, 64)
ax.set_ylim(YBOT, YTOP)
for s in ['top', 'left', 'right']:
    ax.spines[s].set_visible(False)
ax.spines['bottom'].set_color('black')
ax.spines['bottom'].set_linewidth(1.5 * PX)
ax.set_xticks([])
ax.set_yticks(np.arange(-45, 31, 5))
ax.tick_params(axis='y', length=0, pad=30 * PX, labelsize=7.2)
for lab in ax.get_yticklabels():
    lab.set_horizontalalignment('left')

ax2 = ax.twinx()
ax2.set_ylim(YBOT + 45, YTOP + 45)
ax2.set_yticks(np.arange(0, 76, 5))
ax2.tick_params(axis='y', length=0, pad=18 * PX, labelsize=7.2)
for s in ax2.spines.values():
    s.set_visible(False)

# grille
ax.vlines(np.arange(0, 65, 4), YBOT, YTOP, color='#c0c0c0', lw=1.6 * PX, zorder=0)
for v in np.arange(-45, 31, 5):
    if v == 0:
        ax.hlines(v, 0, 64, color='#909090', lw=3 * PX, zorder=0.5)
    else:
        ax.hlines(v, 0, 64, color='#c0c0c0', lw=(2 if v % 10 == 0 else 1) * PX, zorder=0.5)

# perturbations
for k in range(20):
    kw = dict(color=pert_colors[k], lw=1 * PX, marker='+', ms=3, mew=0.7 * PX, zorder=2)
    ax.plot(steps, t850_pert[k], **kw)
    ax.plot(steps, t500_pert[k], **kw)
    ax.plot(steps, np.array(rr_pert[k]) - 45, **kw)

# GFS, contrôle, moyenne
for t in [t850_gfs, t500_gfs]:
    ax.plot(steps, t, color='black', lw=3.2 * PX, zorder=3)
ax.plot(steps, np.array(rr_gfs) - 45, color='black', lw=3.2 * PX, zorder=3)
for t in [t850_ctrl, t500_ctrl]:
    ax.plot(steps, t, color='#0000ff', lw=3.2 * PX, zorder=4)
ax.plot(steps, np.array(rr_ctrl) - 45, color='#0000ff', lw=3.2 * PX, zorder=4)
for t in [t850_mean, t500_mean]:
    ax.plot(steps, t, color='#ff0000', lw=4.2 * PX, zorder=5)
ax.plot(steps, np.array(rr_mean) - 45, color='#ff0000', lw=4.2 * PX, zorder=5)

ax.text(1, 0.4, 'Temp. 850hPa', va='center', ha='left', fontsize=7.2, zorder=6)
ax.text(1, -27.7, 'Temp. 500hPa', va='center', ha='left', fontsize=7.2, zorder=6)
ax.text(1, -38.4, 'Précipitations', va='center', ha='left', fontsize=7.2, zorder=6)

# risque neige
for i, p in enumerate(snow_pct):
    if p <= 0:
        continue
    ax.add_patch(Rectangle((i - 0.5, -51.43), 1, 3.43,
                           facecolor='#d4f6ff', edgecolor='none', zorder=1))
    ax.scatter([i], [-50.7], s=(8 * PX) ** 2, color='#8ad8f6', edgecolor='none', zorder=2)
    ax.text(i, -50.7, '❄', family='DejaVu Sans', fontsize=7.5, color='#3aa8e0',
            ha='center', va='center', zorder=3)
    ax.text(i + 0.1, -49.6, '%d%%' % p, rotation=90, ha='center', va='bottom',
            color='#0000ff', fontsize=5.6, fontweight='bold', zorder=3)

# dates
trans = blended_transform_factory(ax.transData, ax.transAxes)
for k, d in enumerate(days):
    ax.text(4 * k + 0.7, -2 / 600, d, rotation=90, ha='center', va='top',
            transform=trans, fontsize=7.2, clip_on=False)

fig.text(fx(20), fy(606), '(°C)', ha='left', va='center', fontsize=7.2)
fig.text(fx(710), fy(607), '(mm)', ha='left', va='center', fontsize=7.2)

# légende
fig.add_artist(Line2D([fx(35), fx(66)], [fy(631), fy(631)], color='#ff0000', lw=4 * PX))
fig.text(fx(75), fy(637), 'Moyenne des scénarios', ha='left', va='center', fontsize=7.2)
fig.add_artist(Line2D([fx(225), fx(256)], [fy(637.5), fy(637.5)], color='#0000ff', lw=3.5 * PX))
fig.text(fx(265), fy(637), 'Run de contrôle', ha='left', va='center', fontsize=7.2)
fig.add_artist(Line2D([fx(225), fx(256)], [fy(647.5), fy(647.5)], color='black', lw=3.5 * PX))
fig.text(fx(265), fy(647), 'Run GFS', ha='left', va='center', fontsize=7.2)
fig.text(fx(60), fy(658), '❄', family='DejaVu Sans', ha='center', va='center',
         fontsize=8, color='#3aa8e0')
fig.text(fx(75), fy(659), 'Risque neige (par rapport a tous les scénarios)',
         ha='left', va='center', fontsize=7.2)

fig.text(fx(370), fy(652), '20 Perturbations', ha='left', va='center', fontsize=7.2)
for k in range(20):
    x0 = 470 + 11 * k
    fig.add_artist(Rectangle((fx(x0), fy(656)), 10 / W, 6 / H, transform=fig.transFigure,
                             facecolor=pert_colors[k], edgecolor='none'))
    fig.text(fx(x0 + 5), fy(644), pert_names[k], ha='center', va='center', fontsize=5.3)

fig.add_artist(Rectangle((fx(21), fy(699)), 419 / W, 31 / H, transform=fig.transFigure,
                         fill=False, edgecolor='black', lw=1.2 * PX))
fig.text(fx(30), fy(677), 'Diagramme des ensembles GEFS sur 384h : 52.1N 5.2E',
         ha='left', va='center', fontsize=8.0, fontweight='bold')
fig.text(fx(30), fy(692), 'Températures 850hPa et 500hPa (°C) , précipitations (mm)',
         ha='left', va='center', fontsize=7.0)
fig.text(fx(450), fy(672), 'Ensemble GEFS du 16/03/2013 - 00h', ha='left', va='center',
         fontsize=7.2)
fig.text(fx(450), fy(692), 'Copyright 2013 Meteociel.fr', ha='left', va='center',
         fontsize=8.2, fontweight='bold')

fig.savefig('out.png', dpi=100)
